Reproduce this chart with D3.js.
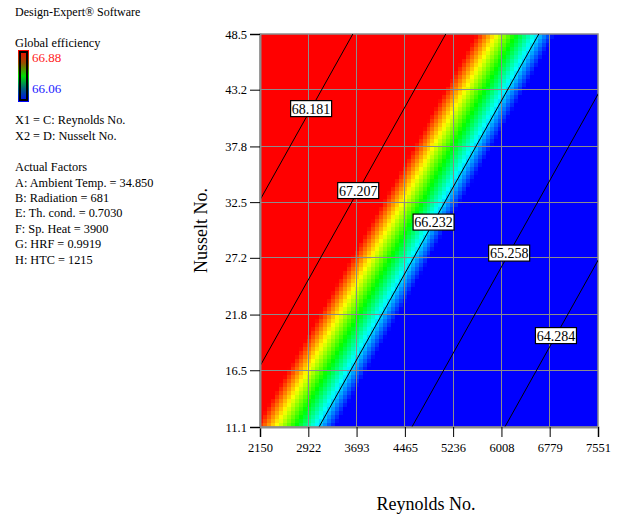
<!DOCTYPE html>
<html>
<head>
<meta charset="utf-8">
<script src="https://cdn.jsdelivr.net/npm/d3@7"></script>
<style>
  html, body { margin: 0; padding: 0; background: #fff; }
  text { font-family: "Liberation Serif", "Times New Roman", serif; }
</style>
</head>
<body>
<svg id="chart" width="620" height="517"></svg>
<script>
// ---------- data ----------
const xTicks = [2150, 2922, 3693, 4465, 5236, 6008, 6779, 7551];   // Reynolds No.
const yTicks = [11.1, 16.5, 21.8, 27.2, 32.5, 37.8, 43.2, 48.5];    // Nusselt No.
const contourLevels = [68.181, 67.207, 66.232, 65.258, 64.284];
const contourLabelNusselt = [41.4, 33.6, 30.6, 27.65, 19.8];       // where each label sits on its line
const colorRangeValues = [66.06, 66.88];                            // legend low / high
// fitted linear response surface: Global efficiency = b0 + bRe*Re + bNu*Nu (estimated from contour lines)
const modelTerms = ["intercept", "reynolds", "nusselt"];
const modelCoefs = [67.577, -0.000656, 0.0616];
const gridCols = 85, gridRows = 98;
const headerLines = ["Design-Expert® Software"];
const factorLines = ["X1 = C: Reynolds No.", "X2 = D: Nusselt No."];
const actualFactorLines = ["A: Ambient Temp. = 34.850", "B: Radiation = 681", "E: Th. cond. = 0.7030",
  "F: Sp. Heat = 3900", "G: HRF = 0.9919", "H: HTC = 1215"];

// ---------- setup ----------
const svg = d3.select("#chart");
const plot = {left: 260, right: 598, top: 34, bottom: 427};
const x = d3.scaleLinear().domain([xTicks[0], xTicks[xTicks.length-1]]).range([plot.left, plot.right]);
const y = d3.scaleLinear().domain([yTicks[0], yTicks[yTicks.length-1]]).range([plot.bottom, plot.top]);
const model = (re, nu) => modelCoefs[0] + modelCoefs[1]*re + modelCoefs[2]*nu;

const color = d3.scaleLinear()
  .domain(d3.range(5).map(i => colorRangeValues[0] + i*(colorRangeValues[1]-colorRangeValues[0])/4))
  .range(["#0000ff", "#00ffff", "#00ff00", "#ffff00", "#ff0000"])
  .clamp(true);

// ---------- heat map cells ----------
const [x0, x1] = x.domain(), [y0, y1] = y.domain();
const dRe = (x1 - x0) / gridCols, dNu = (y1 - y0) / gridRows;
const cells = [];
for (let i = 0; i < gridCols; i++) {
  for (let j = 0; j < gridRows; j++) {
    const re = x0 + (i + 0.5)*dRe, nu = y0 + (j + 0.5)*dNu;
    cells.push({i, j, v: model(re, nu)});
  }
}
svg.append("g").attr("shape-rendering", "crispEdges")
  .selectAll("rect").data(cells).join("rect")
  .attr("x", d => Math.floor(x(x0 + d.i*dRe)))
  .attr("y", d => Math.floor(y(y0 + (d.j+1)*dNu)))
  .attr("width", d => Math.ceil(x(x0 + (d.i+1)*dRe)) - Math.floor(x(x0 + d.i*dRe)))
  .attr("height", d => Math.ceil(y(y0 + d.j*dNu)) - Math.floor(y(y0 + (d.j+1)*dNu)))
  .attr("fill", d => color(d.v));

// ---------- grid lines ----------
const grid = svg.append("g").attr("stroke", "#8c8c8c").attr("stroke-width", 1).attr("shape-rendering", "crispEdges");
grid.selectAll(".gx").data(xTicks.slice(1, -1)).join("line")
  .attr("x1", d => x(d)).attr("x2", d => x(d)).attr("y1", plot.top).attr("y2", plot.bottom);
grid.selectAll(".gy").data(yTicks.slice(1, -1)).join("line")
  .attr("y1", d => y(d)).attr("y2", d => y(d)).attr("x1", plot.left).attr("x2", plot.right);
svg.append("rect").attr("x", plot.left).attr("y", plot.top)
  .attr("width", plot.right - plot.left).attr("height", plot.bottom - plot.top)
  .attr("fill", "none").attr("stroke", "#8c8c8c").attr("stroke-width", 1.5);

// ---------- contour lines ----------
svg.append("clipPath").attr("id", "plotClip").append("rect")
  .attr("x", plot.left).attr("y", plot.top).attr("width", plot.right - plot.left).attr("height", plot.bottom - plot.top);
const reOnLevel = (level, nu) => (level - modelCoefs[0] - modelCoefs[2]*nu) / modelCoefs[1];
const line = d3.line().x(d => x(d[0])).y(d => y(d[1]));
svg.append("g").attr("clip-path", "url(#plotClip)")
  .selectAll("path").data(contourLevels).join("path")
  .attr("d", lv => line([[reOnLevel(lv, y0), y0], [reOnLevel(lv, y1), y1]]))
  .attr("fill", "none").attr("stroke", "#000").attr("stroke-width", 1);

// contour labels
const labG = svg.append("g").selectAll("g").data(contourLevels).join("g")
  .attr("transform", (lv, i) => `translate(${x(reOnLevel(lv, contourLabelNusselt[i]))},${y(contourLabelNusselt[i])})`);
labG.append("rect").attr("x", -20.5).attr("y", -8).attr("width", 41).attr("height", 16)
  .attr("fill", "#fff").attr("stroke", "#000").attr("stroke-width", 1.2);
labG.append("text").attr("text-anchor", "middle").attr("y", 5).attr("font-size", 14)
  .attr("fill", "#000").text(lv => lv.toFixed(3));

// ---------- axes ----------
const xAxis = svg.append("g").attr("transform", `translate(0,${plot.bottom})`)
  .call(d3.axisBottom(x).tickValues(xTicks).tickSize(10).tickPadding(6).tickFormat(d => d));
const yAxis = svg.append("g").attr("transform", `translate(${plot.left},0)`)
  .call(d3.axisLeft(y).tickValues(yTicks).tickSize(10).tickPadding(3).tickFormat(d3.format(".1f")));
[xAxis, yAxis].forEach(a => {
  a.select(".domain").attr("stroke", "#8c8c8c").attr("stroke-width", 2);
  a.selectAll(".tick line").attr("stroke", "#000");
  a.selectAll(".tick text").attr("font-family", "Liberation Serif").attr("font-size", 12.5).attr("fill", "#000");
});

svg.append("text").attr("x", 426).attr("y", 510).attr("text-anchor", "middle")
  .attr("font-size", 18).text("Reynolds No.");
svg.append("text").attr("transform", `translate(207,${(plot.top + plot.bottom)/2}) rotate(-90)`)
  .attr("text-anchor", "middle").attr("font-size", 18).text("Nusselt No.");

// ---------- left panel ----------
const panel = svg.append("g").attr("font-size", 12.3).attr("fill", "#000");
panel.selectAll(".h").data(headerLines).join("text").attr("x", 15).attr("y", 16).attr("font-size", 12).text(d => d);
panel.append("text").attr("x", 15).attr("y", 47).text("Global efficiency");

const grad = svg.append("defs").append("linearGradient").attr("id", "legGrad")
  .attr("x1", 0).attr("y1", 1).attr("x2", 0).attr("y2", 0);
[["0%", "#0000ff"], ["25%", "#006080"], ["50%", "#00e000"], ["75%", "#985000"], ["100%", "#ff0000"]]
  .forEach(s => grad.append("stop").attr("offset", s[0]).attr("stop-color", s[1]));
svg.append("rect").attr("x", 18).attr("y", 50).attr("width", 11).attr("height", 52).attr("fill", "url(#legGrad)");
svg.append("rect").attr("x", 20).attr("y", 52).attr("width", 7).attr("height", 48)
  .attr("fill", "none").attr("stroke", "#000").attr("stroke-width", 2);
panel.append("text").attr("x", 32).attr("y", 62).attr("font-size", 13).attr("fill", "#ff2020").text(colorRangeValues[1].toFixed(2));
panel.append("text").attr("x", 32).attr("y", 93).attr("font-size", 13).attr("fill", "#2020ff").text(colorRangeValues[0].toFixed(2));

panel.selectAll(".f").data(factorLines).join("text").attr("x", 15).attr("y", (d, i) => 124 + i*15.5).text(d => d);
panel.append("text").attr("x", 15).attr("y", 171).text("Actual Factors");
panel.selectAll(".a").data(actualFactorLines).join("text").attr("x", 15).attr("y", (d, i) => 186.5 + i*15.4).text(d => d);
</script>
</body>
</html>
